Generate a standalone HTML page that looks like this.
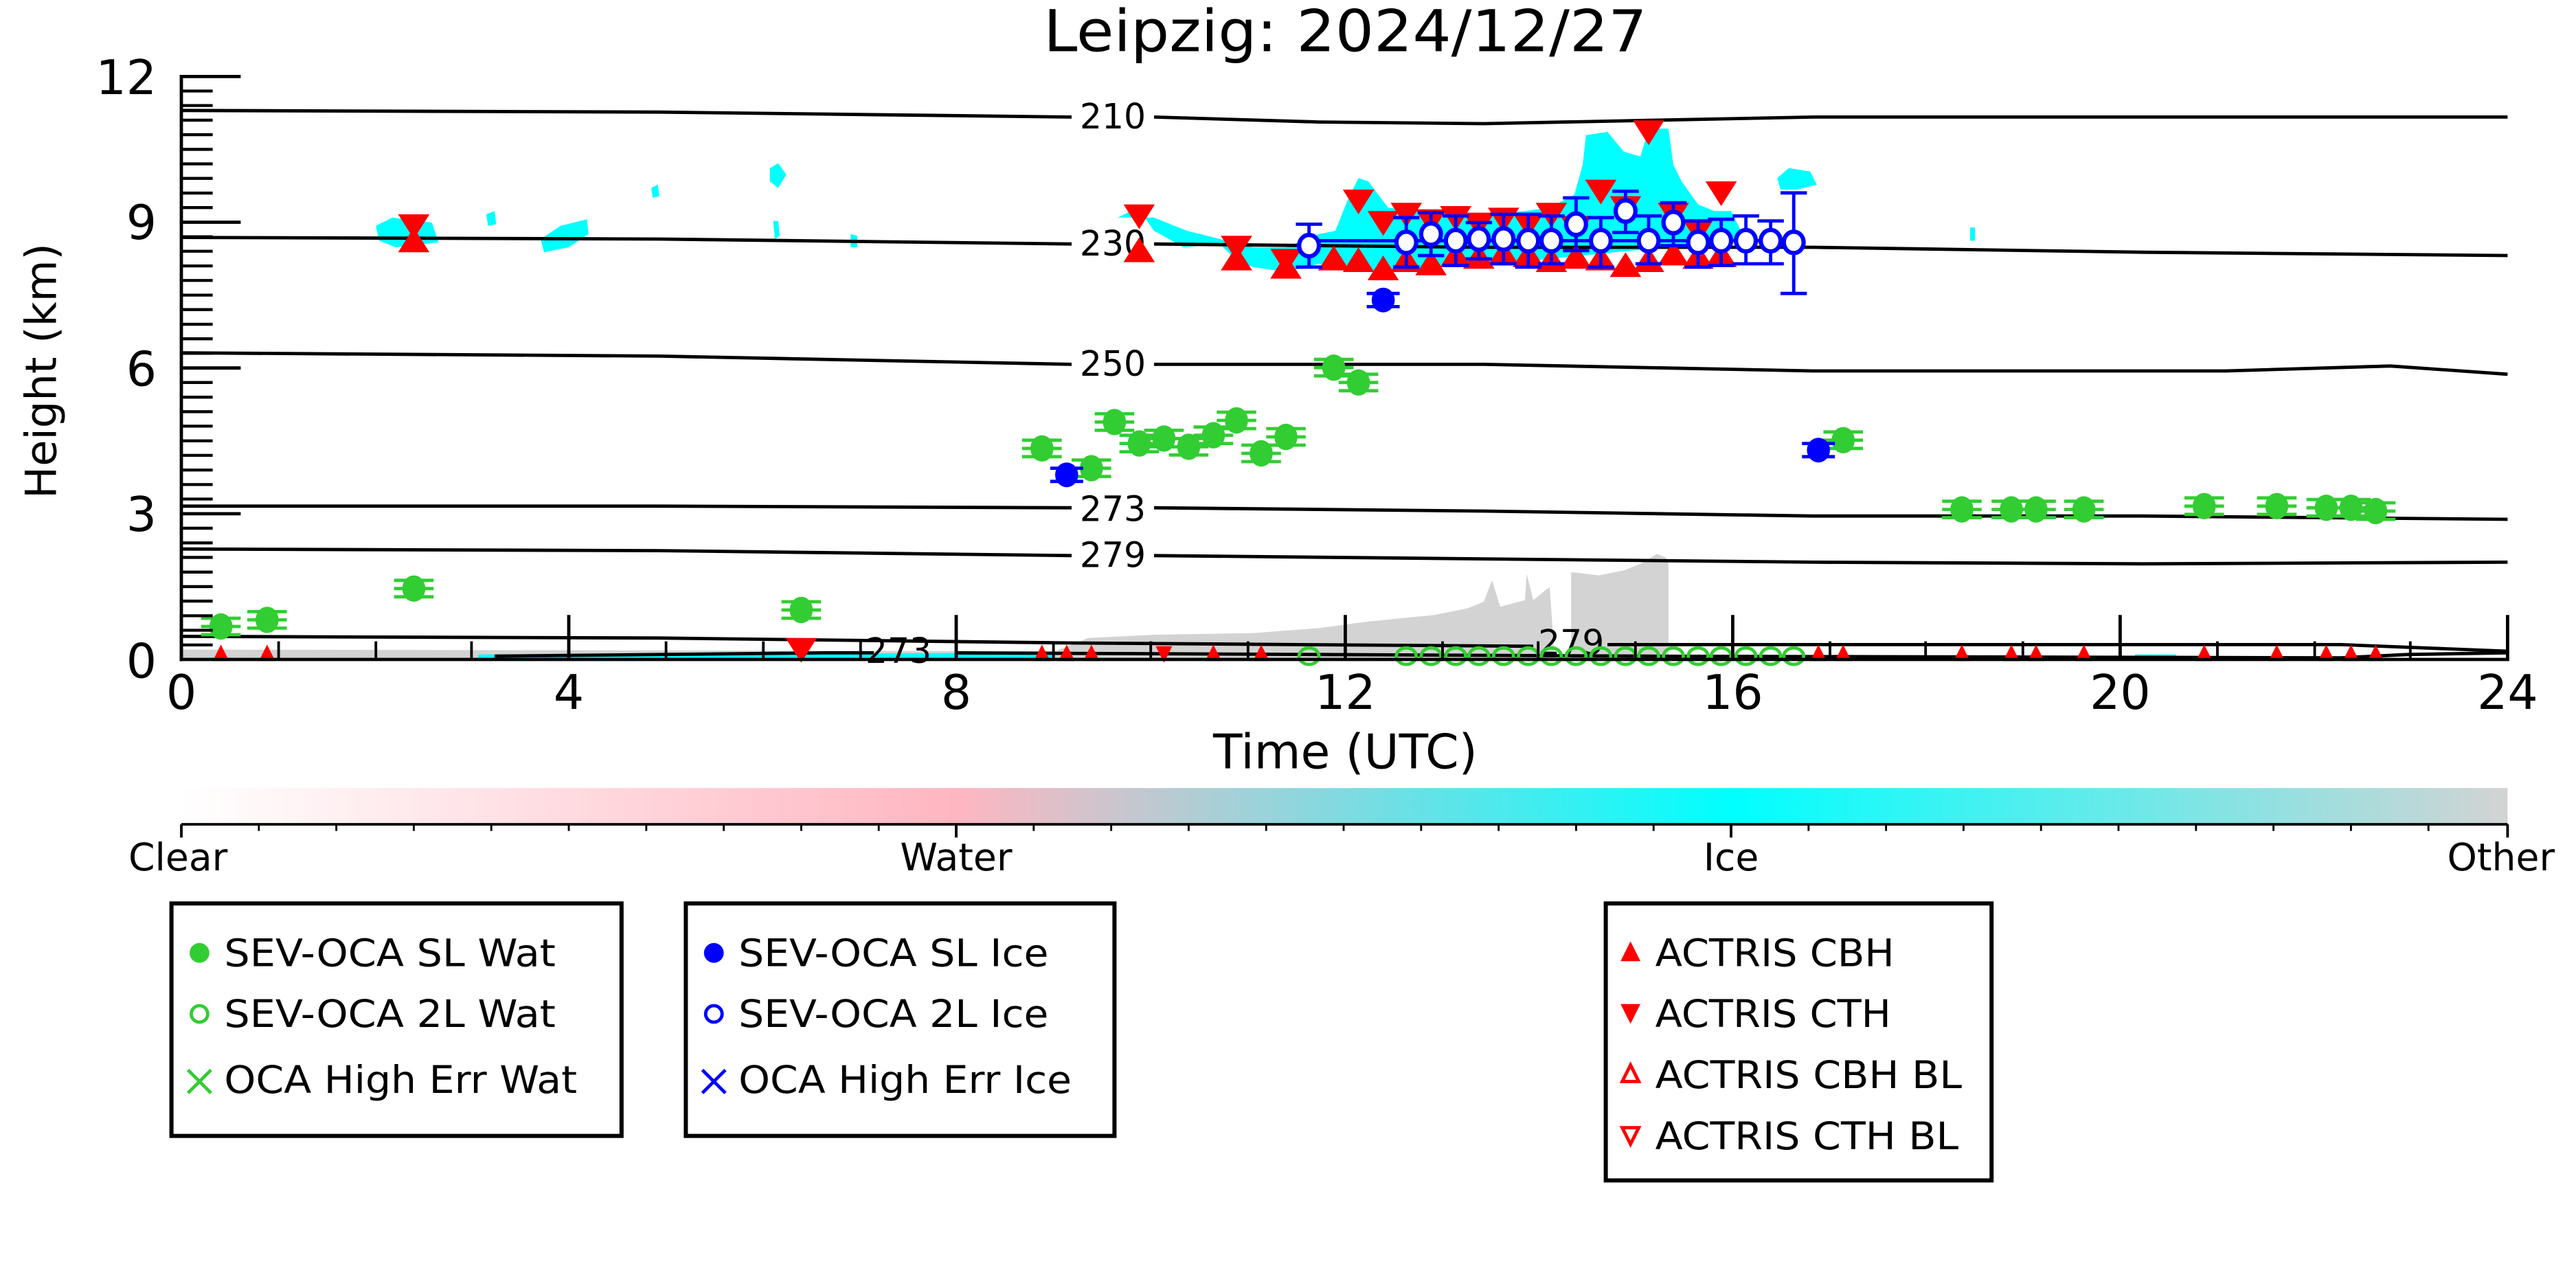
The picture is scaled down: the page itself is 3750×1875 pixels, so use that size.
<!DOCTYPE html>
<html><head><meta charset="utf-8"><style>
html,body{margin:0;padding:0;background:#fff;}
svg{display:block;}
text{font-family:"DejaVu Sans","Liberation Sans",sans-serif;fill:#000;}
</style></head><body>
<svg width="3750" height="1875" viewBox="0 0 1562.5 781.25" xmlns="http://www.w3.org/2000/svg">
<defs>
<linearGradient id="cb" x1="0" x2="1" y1="0" y2="0">
<stop offset="0" stop-color="#ffffff"/><stop offset="0.333" stop-color="#ffb6c1"/><stop offset="0.666" stop-color="#00ffff"/><stop offset="1" stop-color="#d3d3d3"/>
</linearGradient>
<g id="gw"><line x1="-12" x2="12" y1="-5" y2="-5" stroke="#32cd32" stroke-width="2"/><line x1="-12" x2="12" y1="5" y2="5" stroke="#32cd32" stroke-width="2"/><line x1="-12" x2="12" y1="0" y2="0" stroke="#32cd32" stroke-width="2"/><ellipse rx="7" ry="8" fill="#32cd32"/></g>
<g id="bi"><line x1="-10" x2="10" y1="-4" y2="-4" stroke="#00f" stroke-width="2"/><line x1="-10" x2="10" y1="4" y2="4" stroke="#00f" stroke-width="2"/><ellipse rx="7" ry="7.5" fill="#00f"/></g>
<polygon id="up" points="0,-8 -9.5,7 9.5,7" fill="#f00"/>
<polygon id="dn" points="0,8 -9.5,-7 9.5,-7" fill="#f00"/>
<polygon id="ups" points="0,-6 -5,4 5,4" fill="#f00"/>
<polygon id="dns" points="0,6 -5,-4 5,-4" fill="#f00"/>
<ellipse id="go" rx="6" ry="5" fill="none" stroke="#32cd32" stroke-width="2"/>
</defs>

<text x="816" y="31" font-size="35" text-anchor="middle" font-family="Liberation Sans" textLength="366" lengthAdjust="spacingAndGlyphs">Leipzig: 2024/12/27</text>

<polygon fill="#d3d3d3" points="110,400 110,394 640,395 660,387 700,385 760,384 800,381 830,377 870,373 890,369 900,365 905,352 910,368 925,364 926,348 930,364 940,356 943,400 953,400 953,347 970,349 985,346 995,342 1005,336 1010,338 1012,340 1012,400"/>
<g fill="#00ffff">
<polygon points="228,137 238,132 262,135 266,147 240,150 230,146"/>
<polygon points="295,130 300,128 301,136 296,137"/>
<polygon points="328,145 340,137 356,133 357,142 345,150 330,153"/>
<polygon points="395,114 399,112 400,119 396,120"/>
<polygon points="467,102 472,99 477,106 472,114 467,110"/>
<polygon points="469,134 472,134 473,143 470,145"/>
<polygon points="516,142 520,143 520,150 516,150"/>
<polygon points="678,132 690,126 700,140 718,150 740,148 750,158 760,162 780,165 800,160 820,165 840,165 870,162 900,160 930,158 960,155 990,152 1020,150 1050,148 1056,140 1050,128 1040,128 1030,124 1020,110 1015,100 1012,78 1000,78 995,95 985,92 975,80 962,82 960,100 955,118 940,126 925,128 905,130 880,130 860,128 842,126 830,110 824,108 818,120 810,140 800,142 780,150 760,150 740,145 720,140 700,132"/>
<polygon points="1078,108 1085,102 1098,104 1102,112 1090,115 1080,115"/>
<polygon points="1195,138 1198,138 1198,146 1195,146"/>
<polygon points="290,397 640,396 640,400 290,400"/>
<polygon points="1295,397 1320,397 1320,400 1295,400"/>
</g>

<g fill="none" stroke="#000" stroke-width="2">
<polyline points="110,67 400,68 650,71"/><polyline points="700,71 800,74 900,75 1000,73 1100,71 1300,71 1521,71"/>
<polyline points="110,144 400,145 650,148"/><polyline points="700,148 900,150 1100,150 1300,153 1521,155"/>
<polyline points="110,214 400,216 650,221"/><polyline points="700,221 900,221 1100,225 1350,225 1450,222 1521,227"/>
<polyline points="110,307 400,307 650,308"/><polyline points="700,308 900,310 1100,313 1300,313 1521,315"/>
<polyline points="110,333 400,334 650,337"/><polyline points="700,337 900,339 1100,341 1300,342 1521,341"/>
<polyline points="110,386 400,387 650,390 930,392"/><polyline points="975,391 1200,391 1420,391 1521,395"/>
<polyline points="300,398 500,396 530,396"/><polyline points="580,396 800,397 1000,398 1420,399 1460,397 1521,396"/>
</g>
<g font-size="21" text-anchor="middle" font-family="Liberation Sans">
<text x="675" y="78">210</text><text x="675" y="155">230</text><text x="675" y="228">250</text><text x="675" y="316">273</text><text x="675" y="344">279</text>
<text x="953" y="397">279</text><text x="545" y="402">273</text>
</g>

<g>
<use href="#go" x="794" y="398"/><use href="#go" x="853" y="398"/><use href="#go" x="868" y="398"/><use href="#go" x="883" y="398"/><use href="#go" x="897" y="398"/><use href="#go" x="912" y="398"/><use href="#go" x="927" y="398"/><use href="#go" x="941" y="398"/><use href="#go" x="956" y="398"/><use href="#go" x="971" y="398"/><use href="#go" x="986" y="398"/><use href="#go" x="1000" y="398"/><use href="#go" x="1015" y="398"/><use href="#go" x="1030" y="398"/><use href="#go" x="1044" y="398"/><use href="#go" x="1059" y="398"/><use href="#go" x="1074" y="398"/><use href="#go" x="1088" y="398"/>
<use href="#ups" x="134" y="397"/><use href="#ups" x="162" y="397"/><use href="#dn" x="486" y="394"/><use href="#ups" x="632" y="397"/><use href="#ups" x="647" y="397"/><use href="#ups" x="662" y="397"/><use href="#dns" x="706" y="396"/><use href="#ups" x="736" y="397"/><use href="#ups" x="765" y="397"/>
<use href="#ups" x="1103" y="397"/><use href="#ups" x="1118" y="397"/><use href="#ups" x="1190" y="397"/><use href="#ups" x="1220" y="397"/><use href="#ups" x="1235" y="397"/><use href="#ups" x="1264" y="397"/><use href="#ups" x="1337" y="397"/><use href="#ups" x="1381" y="397"/><use href="#ups" x="1411" y="397"/><use href="#ups" x="1426" y="397"/><use href="#ups" x="1441" y="397"/>
</g>

<g>
<use href="#gw" x="134" y="380"/><use href="#gw" x="162" y="376"/><use href="#gw" x="251" y="357"/><use href="#gw" x="486" y="370"/><use href="#gw" x="632" y="272"/><use href="#gw" x="662" y="284"/><use href="#gw" x="676" y="256"/><use href="#gw" x="691" y="269"/><use href="#gw" x="706" y="266"/><use href="#gw" x="721" y="271"/><use href="#gw" x="736" y="264"/><use href="#gw" x="750" y="255"/><use href="#gw" x="765" y="275"/><use href="#gw" x="780" y="265"/><use href="#gw" x="809" y="223"/><use href="#gw" x="824" y="232"/><use href="#gw" x="1118" y="267"/><use href="#gw" x="1190" y="309"/><use href="#gw" x="1220" y="309"/><use href="#gw" x="1235" y="309"/><use href="#gw" x="1264" y="309"/><use href="#gw" x="1337" y="307"/><use href="#gw" x="1381" y="307"/><use href="#gw" x="1411" y="308"/><use href="#gw" x="1426" y="308"/><use href="#gw" x="1441" y="310"/>
<use href="#bi" x="647" y="288"/><use href="#bi" x="839" y="182"/><use href="#bi" x="1103" y="273"/>
</g>

<g>
<use href="#dn" x="251" y="137"/><use href="#up" x="251" y="146"/>
<use href="#dn" x="691" y="131"/><use href="#up" x="691" y="152"/>
<use href="#dn" x="750" y="150"/><use href="#up" x="750" y="157"/>
<use href="#dn" x="780" y="158"/><use href="#up" x="780" y="162"/>
<use href="#up" x="809" y="157"/><use href="#dn" x="824" y="122"/><use href="#up" x="824" y="158"/>
<use href="#dn" x="839" y="135"/><use href="#up" x="839" y="163"/>
<use href="#dn" x="853" y="130"/><use href="#up" x="853" y="158"/>
<use href="#dn" x="868" y="134"/><use href="#up" x="868" y="160"/>
<use href="#dn" x="883" y="132"/><use href="#up" x="883" y="155"/>
<use href="#dn" x="897" y="136"/><use href="#up" x="897" y="156"/>
<use href="#dn" x="912" y="133"/><use href="#up" x="912" y="154"/>
<use href="#dn" x="927" y="136"/><use href="#up" x="927" y="155"/>
<use href="#dn" x="941" y="130"/><use href="#up" x="941" y="158"/>
<use href="#dn" x="956" y="138"/><use href="#up" x="956" y="156"/>
<use href="#dn" x="971" y="116"/><use href="#up" x="971" y="157"/>
<use href="#dn" x="986" y="126"/><use href="#up" x="986" y="161"/>
<use href="#dn" x="1000" y="80"/><use href="#up" x="1000" y="158"/>
<use href="#dn" x="1015" y="130"/><use href="#up" x="1015" y="154"/>
<use href="#dn" x="1030" y="140"/><use href="#up" x="1030" y="156"/>
<use href="#dn" x="1044" y="117"/><use href="#up" x="1044" y="155"/>
</g>

<g stroke="#00f" stroke-width="2" fill="#fff">
<path fill="none" d="M794,136V162M786,136H802M786,162H802 M853,132V162M845,132H861M845,162H861 M868,129V155M860,129H876M860,155H876 M883,131V161M875,131H891M875,161H891 M897,135V157M889,135H905M889,157H905 M912,130V160M904,130H920M904,160H920 M927,130V162M919,130H935M919,162H935 M941,131V160M933,131H949M933,160H949 M956,120V152M948,120H964M948,152H964 M971,132V162M963,132H979M963,162H979 M986,116V141M978,116H994M978,141H994 M1000,131V160M992,131H1008M992,160H1008 M1015,123V149M1007,123H1023M1007,149H1023 M1030,134V162M1022,134H1038M1022,162H1038 M1044,133V161M1036,133H1052M1036,161H1052 M1059,131V160M1051,131H1067M1051,160H1067 M1074,134V160M1066,134H1082M1066,160H1082 M1088,117V178M1080,117H1096M1080,178H1096 M800,146H1088"/>
<g stroke-width="2.6">
<ellipse cx="794" cy="149" rx="6" ry="6.5"/><ellipse cx="853" cy="147" rx="6" ry="6.5"/><ellipse cx="868" cy="142" rx="6" ry="6.5"/><ellipse cx="883" cy="146" rx="6" ry="6.5"/><ellipse cx="897" cy="145" rx="6" ry="6.5"/><ellipse cx="912" cy="145" rx="6" ry="6.5"/><ellipse cx="927" cy="146" rx="6" ry="6.5"/><ellipse cx="941" cy="146" rx="6" ry="6.5"/><ellipse cx="956" cy="136" rx="6" ry="6.5"/><ellipse cx="971" cy="146" rx="6" ry="6.5"/><ellipse cx="986" cy="128" rx="6" ry="6.5"/><ellipse cx="1000" cy="146" rx="6" ry="6.5"/><ellipse cx="1015" cy="135" rx="6" ry="6.5"/><ellipse cx="1030" cy="147" rx="6" ry="6.5"/><ellipse cx="1044" cy="146" rx="6" ry="6.5"/><ellipse cx="1059" cy="146" rx="6" ry="6.5"/><ellipse cx="1074" cy="146" rx="6" ry="6.5"/><ellipse cx="1088" cy="147" rx="6" ry="6.5"/>
</g>
</g>

<g stroke="#000" stroke-width="2" fill="none">
<line x1="110" y1="45.4" x2="110" y2="401"/>
<line x1="109" y1="400" x2="1522" y2="400"/>
<path d="M110,46.4H146M110,134.8H146M110,223.2H146M110,311.6H146"/>
<path stroke-width="1.8" d="M110,391.2H129M110,382.3H129M110,373.5H129M110,364.6H129M110,355.8H129M110,347H129M110,338.1H129M110,329.3H129M110,320.4H129M110,302.7H129M110,293.9H129M110,285.1H129M110,276.2H129M110,267.4H129M110,258.5H129M110,249.7H129M110,240.9H129M110,232H129M110,214.3H129M110,205.5H129M110,196.7H129M110,187.8H129M110,179H129M110,170.1H129M110,161.3H129M110,152.4H129M110,143.6H129M110,125.9H129M110,117.1H129M110,108.2H129M110,99.4H129M110,90.6H129M110,81.7H129M110,72.9H129M110,64H129M110,55.2H129"/>
<path d="M110,400V373M345,400V373M580,400V373M816,400V373M1051,400V373M1286,400V373M1521,400V373"/>
<path stroke-width="1.6" d="M169,400V389M228,400V389M286,400V389M404,400V389M463,400V389M522,400V389M639,400V389M698,400V389M757,400V389M875,400V389M933,400V389M992,400V389M1110,400V389M1168,400V389M1227,400V389M1345,400V389M1404,400V389M1462,400V389"/>
</g>
<g font-size="29" text-anchor="middle" font-family="Liberation Sans">
<text x="110" y="430">0</text><text x="345" y="430">4</text><text x="580" y="430">8</text><text x="816" y="430">12</text><text x="1051" y="430">16</text><text x="1286" y="430">20</text><text x="1521" y="430">24</text>
</g>
<g font-size="29" text-anchor="end" font-family="Liberation Sans">
<text x="95" y="57">12</text><text x="95" y="145">9</text><text x="95" y="234">6</text><text x="95" y="322">3</text><text x="95" y="411">0</text>
</g>
<text x="816" y="466" font-size="29" text-anchor="middle" font-family="Liberation Sans">Time (UTC)</text>
<text transform="translate(34,225) rotate(-90)" font-size="26" text-anchor="middle">Height (km)</text>

<rect x="110" y="478" width="1411" height="22" fill="url(#cb)"/>
<g stroke="#000" stroke-width="1.6">
<line x1="110" y1="500" x2="1521" y2="500"/>
<path d="M110,500V508M580,500V508M1050,500V508M1521,500V508"/>
<path stroke-width="1.2" d="M157,500V504M204,500V504M251,500V504M298,500V504M345,500V504M392,500V504M439,500V504M486,500V504M533,500V504M627,500V504M674,500V504M721,500V504M768,500V504M815,500V504M862,500V504M909,500V504M956,500V504M1003,500V504M1097,500V504M1144,500V504M1191,500V504M1238,500V504M1285,500V504M1332,500V504M1379,500V504M1426,500V504M1473,500V504"/>
</g>
<g font-size="23" text-anchor="middle" font-family="Liberation Sans">
<text x="108" y="528">Clear</text><text x="580" y="528">Water</text><text x="1050" y="528">Ice</text><text x="1517" y="528">Other</text>
</g>

<g fill="none" stroke="#000" stroke-width="2.5">
<rect x="104" y="548" width="273" height="141"/>
<rect x="416" y="548" width="260" height="141"/>
<rect x="974" y="548" width="234" height="168"/>
</g>
<g font-size="23" font-family="Liberation Sans">
<circle cx="121" cy="578" r="6" fill="#32cd32"/><text x="136" y="586" textLength="201" lengthAdjust="spacingAndGlyphs">SEV-OCA SL Wat</text>
<circle cx="121" cy="615" r="5" fill="none" stroke="#32cd32" stroke-width="2"/><text x="136" y="623" textLength="201" lengthAdjust="spacingAndGlyphs">SEV-OCA 2L Wat</text>
<path d="M114,649L128,663M128,649L114,663" stroke="#32cd32" stroke-width="2"/><text x="136" y="663" textLength="214" lengthAdjust="spacingAndGlyphs">OCA High Err Wat</text>
<circle cx="433" cy="578" r="6" fill="#00f"/><text x="448" y="586" textLength="188" lengthAdjust="spacingAndGlyphs">SEV-OCA SL Ice</text>
<circle cx="433" cy="615" r="5" fill="none" stroke="#00f" stroke-width="2"/><text x="448" y="623" textLength="188" lengthAdjust="spacingAndGlyphs">SEV-OCA 2L Ice</text>
<path d="M426,649L440,663M440,649L426,663" stroke="#00f" stroke-width="2"/><text x="448" y="663" textLength="202" lengthAdjust="spacingAndGlyphs">OCA High Err Ice</text>
<polygon points="989,571 983,583 995,583" fill="#f00"/><text x="1004" y="586" textLength="145" lengthAdjust="spacingAndGlyphs">ACTRIS CBH</text>
<polygon points="989,621 983,609 995,609" fill="#f00"/><text x="1004" y="623" textLength="143" lengthAdjust="spacingAndGlyphs">ACTRIS CTH</text>
<polygon points="989,646 984,656 994,656" fill="none" stroke="#f00" stroke-width="2"/><text x="1004" y="660" textLength="186" lengthAdjust="spacingAndGlyphs">ACTRIS CBH BL</text>
<polygon points="989,694 984,684 994,684" fill="none" stroke="#f00" stroke-width="2"/><text x="1004" y="697" textLength="184" lengthAdjust="spacingAndGlyphs">ACTRIS CTH BL</text>
</g>
</svg>
</body></html>
